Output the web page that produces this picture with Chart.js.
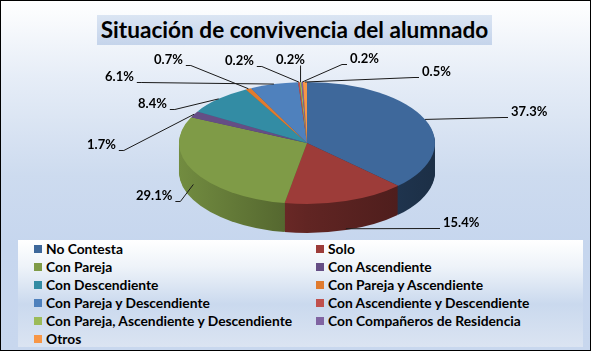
<!DOCTYPE html>
<html>
<head>
<meta charset="utf-8">
<script src="https://cdn.jsdelivr.net/npm/chart.js@4.4.0/dist/chart.umd.min.js"></script>
<style>
  html, body { margin: 0; padding: 0; }
  #frame {
    position: relative; width: 591px; height: 351px; overflow: hidden;
    background: linear-gradient(to bottom, #ffffff 0%, #e6edf7 22%, #cddbef 50%, #c6d6ee 70%, #c8d7ee 100%);
    box-shadow: inset 0 0 0 1px #000;
    font-family: Lato, "Liberation Sans", sans-serif;
  }
  #title {
    position: absolute; left: 97px; top: 15px; width: 395px; height: 30px;
    background: linear-gradient(#dbe5f3, #c5d4eb);
    text-align: center; font-weight: bold; font-size: 22.6px; line-height: 30px; color: #000;
  }
  #legend {
    position: absolute; left: 18px; top: 240px; width: 565px; height: 107px;
    background: linear-gradient(to bottom, #ffffff 0%, #eef3f9 25%, #cad9ee 60%, #dbe4f2 100%);
  }
  .item { position: absolute; font-weight: bold; font-size: 13.8px; line-height: 16px; color: #000; white-space: nowrap; }
  .item i { position: absolute; left: 0; top: 4px; width: 8px; height: 8px; }
  .item span { position: absolute; left: 12px; top: 0; }
  #pie { position: absolute; left: 0; top: 0; }
</style>
</head>
<body>
<div id="frame">
  <div id="title">Situación de convivencia del alumnado</div>
  <div id="legend"></div>
  <canvas id="pie" width="591" height="351"></canvas>
</div>
<script>
const categories = [
  'No Contesta', 'Solo', 'Con Pareja', 'Con Ascendiente', 'Con Descendiente',
  'Con Pareja y Ascendiente', 'Con Pareja y Descendiente', 'Con Ascendiente y Descendiente',
  'Con Pareja, Ascendiente y Descendiente', 'Con Compañeros de Residencia', 'Otros'
];
const shares = [37.3, 15.4, 29.1, 1.7, 8.4, 0.7, 6.1, 0.2, 0.2, 0.2, 0.5];
const sliceColors = [
  '#3e689b', '#9d3c39', '#7f9b47', '#654e85', '#338ca4', '#e07b2e',
  '#4f81bd', '#c0504d', '#9bbb59', '#8064a2', '#f79646'
];

// where each percentage text sits (left x, middle y)
const labelSpots = [
  [511, 112], [443, 223], [136, 196], [87, 145], [138, 104], [154, 60],
  [105, 77], [225, 61], [276, 60], [350, 59], [422, 72]
];

const TOP_Y = 143;      // centre of the top face on screen
const TILT = 61 / 128;  // vertical squash of the disc
const DEPTH = 29;       // thickness of the disc

// legend
const legend = document.getElementById('legend');
categories.forEach(function (name, i) {
  const el = document.createElement('div');
  el.className = 'item';
  el.style.left = (i % 2 ? 298 : 16) + 'px';
  el.style.top = (1 + Math.floor(i / 2) * 18) + 'px';
  el.innerHTML = '<i style="background:' + sliceColors[i] + '"></i><span></span>';
  el.querySelector('span').textContent = name;
  legend.appendChild(el);
});

function shade(hex, f) {
  const n = parseInt(hex.slice(1), 16);
  const r = Math.round(((n >> 16) & 255) * f);
  const g = Math.round(((n >> 8) & 255) * f);
  const b = Math.round((n & 255) * f);
  return 'rgb(' + r + ',' + g + ',' + b + ')';
}

const pie3d = {
  id: 'pie3d',
  beforeDatasetsDraw(chart) {
    const ctx = chart.ctx;
    const arcs = chart.getDatasetMeta(0).data;
    const cx = arcs[0].x, cy = arcs[0].y, r = arcs[0].outerRadius;

    const sides = sliceColors.map(function (c) {
      const g = ctx.createLinearGradient(cx - r, 0, cx + r, 0);
      g.addColorStop(0, shade(c, 0.9));
      g.addColorStop(0.5, shade(c, 0.62));
      g.addColorStop(1, shade(c, 0.45));
      return g;
    });

    // side wall
    for (let d = DEPTH; d >= 1; d--) {
      ctx.save();
      ctx.translate(0, TOP_Y + d);
      ctx.scale(1, TILT);
      ctx.translate(0, -cy);
      arcs.forEach(function (arc, i) {
        const copy = Object.create(arc);
        copy.options = Object.assign({}, arc.options, { backgroundColor: sides[i] });
        copy.draw(ctx);
      });
      ctx.restore();
    }

    // top face
    ctx.save();
    ctx.translate(0, TOP_Y);
    ctx.scale(1, TILT);
    ctx.translate(0, -cy);
    arcs.forEach(function (arc) { arc.draw(ctx); });
    ctx.restore();

    // labels with leader lines
    ctx.save();
    ctx.font = 'bold 13px Lato, "Liberation Sans", sans-serif';
    ctx.textBaseline = 'middle';
    ctx.fillStyle = '#000';
    ctx.strokeStyle = '#1a1a1a';
    ctx.lineWidth = 1;
    arcs.forEach(function (arc, i) {
      const a = (arc.startAngle + arc.endAngle) / 2;
      const ax = cx + r * Math.cos(a);
      const ay = TOP_Y + r * Math.sin(a) * TILT + DEPTH * Math.max(0, Math.sin(a));
      const text = shares[i].toFixed(1) + '%';
      const tx = labelSpots[i][0], ty = labelSpots[i][1];
      const w = ctx.measureText(text).width;
      ctx.fillText(text, tx, ty);
      const by = ty + 5.5;
      ctx.beginPath();
      if (ax > tx + w) {
        ctx.moveTo(tx + w + 3, by); ctx.lineTo(tx + w + 8, by);
      } else if (ax < tx) {
        ctx.moveTo(tx - 3, by); ctx.lineTo(tx - 8, by);
      } else {
        ctx.moveTo(ax, by);
      }
      ctx.lineTo(ax, ay);
      ctx.stroke();
    });
    ctx.restore();
    return false;
  }
};

new Chart(document.getElementById('pie'), {
  type: 'pie',
  data: {
    labels: categories,
    datasets: [{ data: shares, backgroundColor: sliceColors, borderWidth: 0 }]
  },
  options: {
    responsive: false,
    animation: false,
    layout: { padding: { left: 179, right: 156, top: 47, bottom: 48 } },
    plugins: { legend: { display: false }, tooltip: { enabled: false } }
  },
  plugins: [pie3d]
});
</script>
</body>
</html>
